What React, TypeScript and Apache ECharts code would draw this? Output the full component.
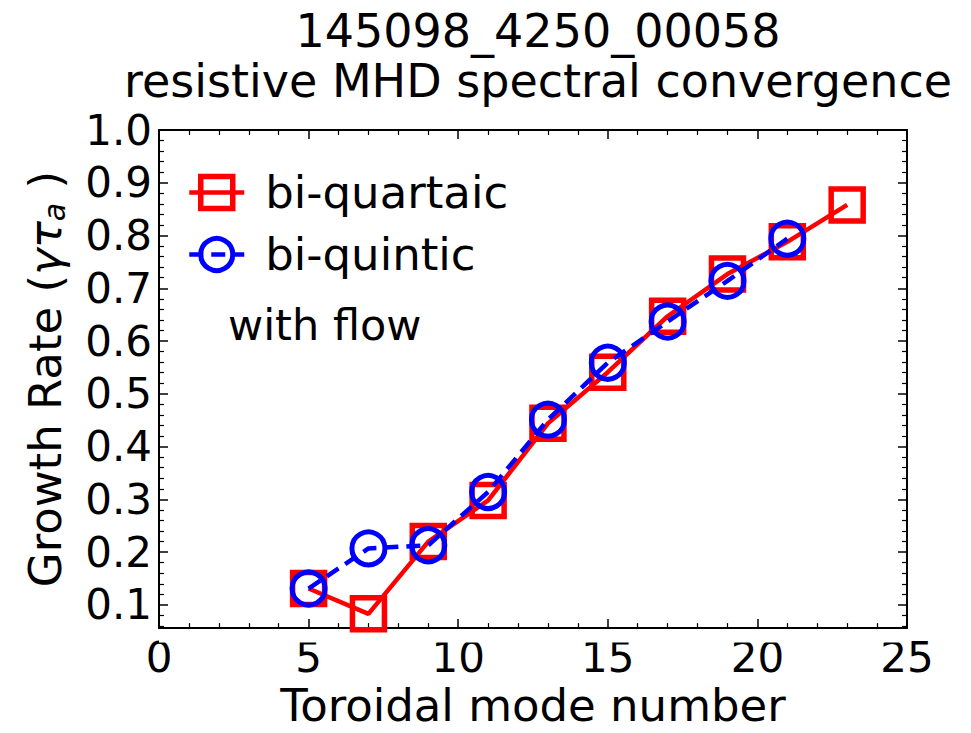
import React, { useEffect, useRef } from "react";
import * as echarts from "echarts";

const TITLE_LINES = ["145098_4250_00058", "resistive MHD spectral convergence"];
const X_LABEL = "Toroidal mode number";
const SERIES_NAMES = ["bi-quartaic", "bi-quintic"];
const ANNOTATION = "with flow";

const xQuartaic = [5, 7, 9, 11, 13, 15, 17, 19, 21, 23];
const yQuartaic = [0.131, 0.083, 0.22, 0.298, 0.444, 0.541, 0.647, 0.727, 0.788, 0.858];
const xQuintic = [5, 7, 9, 11, 13, 15, 17, 19, 21];
const yQuintic = [0.131, 0.207, 0.213, 0.314, 0.451, 0.559, 0.637, 0.714, 0.794];

const X_MIN = 0;
const X_MAX = 25;
const X_INTERVAL = 5;
const Y_MIN = 0.056;
const Y_MAX = 1.0;
const yMajorTicks = [0.1, 0.2, 0.3, 0.4, 0.5, 0.6, 0.7, 0.8, 0.9, 1.0];
const yMinorTicks = [
  0.06, 0.08, 0.12, 0.14, 0.16, 0.18, 0.22, 0.24, 0.26, 0.28, 0.32, 0.34, 0.36, 0.38,
  0.42, 0.44, 0.46, 0.48, 0.52, 0.54, 0.56, 0.58, 0.62, 0.64, 0.66, 0.68, 0.72, 0.74,
  0.76, 0.78, 0.82, 0.84, 0.86, 0.88, 0.92, 0.94, 0.96, 0.98,
];

const FONT = "DejaVu Sans";
const RED = "#ff0000";
const BLUE = "#0000ff";

export default function App() {
  const ref = useRef<HTMLDivElement>(null);
  useEffect(() => {
    if (!ref.current) return;
    const chart = echarts.init(ref.current, null, { renderer: "svg" });
    const tickBase = { lineStyle: { color: "#000", width: 1.5 } };
    const xAxisCommon = {
      type: "value",
      min: X_MIN,
      max: X_MAX,
      interval: X_INTERVAL,
      splitLine: { show: false },
      axisLine: { show: true, onZero: false, lineStyle: { color: "#000", width: 2 } },
      axisTick: { show: true, inside: true, length: 9, ...tickBase },
      minorTick: { show: true, splitNumber: 5, length: 5, lineStyle: { color: "#000", width: 1.2 } },
    };
    const yAxisBase = {
      type: "value",
      min: Y_MIN,
      max: Y_MAX,
      splitLine: { show: false },
    };
    const redLine = { color: RED, width: 4.5 };
    const redItem = { color: "rgba(0,0,0,0)", borderColor: RED, borderWidth: 5.5 };
    const blueLine = { color: BLUE, width: 4.5, type: [14, 8] };
    const blueItem = { color: "rgba(0,0,0,0)", borderColor: BLUE, borderWidth: 5 };
    const option = {
      animation: false,
      backgroundColor: "#fff",
      textStyle: { fontFamily: FONT },
      title: {
        text: TITLE_LINES.join("\n"),
        left: 533,
        top: 1,
        textAlign: "center",
        textStyle: { fontFamily: FONT, fontSize: 46, fontWeight: "normal", color: "#000", lineHeight: 50 },
      },
      grid: { left: 159, top: 130, right: 64, bottom: 96, containLabel: false },
      legend: {
        orient: "vertical",
        left: 187,
        top: 170,
        padding: 0,
        itemWidth: 55,
        itemHeight: 40,
        itemGap: 17,
        data: [
          { name: SERIES_NAMES[0], lineStyle: redLine, itemStyle: redItem },
          { name: SERIES_NAMES[1], lineStyle: blueLine, itemStyle: blueItem },
        ],
        textStyle: { fontFamily: FONT, fontSize: 45, color: "#000", lineHeight: 40, padding: [0, 0, 0, 16] },
      },
      xAxis: [
        {
          ...xAxisCommon,
          position: "bottom",
          name: X_LABEL,
          nameLocation: "middle",
          nameGap: 48,
          nameTextStyle: { fontFamily: FONT, fontSize: 45, color: "#000" },
          axisLabel: { fontFamily: FONT, fontSize: 42, color: "#000", margin: 8 },
        },
        {
          ...xAxisCommon,
          position: "top",
          axisLabel: { show: false },
        },
      ],
      yAxis: [
        {
          ...yAxisBase,
          position: "left",
          axisLine: { show: true, onZero: false, lineStyle: { color: "#000", width: 2 } },
          axisTick: { show: true, inside: true, length: 9, customValues: yMajorTicks, ...tickBase },
          axisLabel: {
            fontFamily: FONT,
            fontSize: 42,
            color: "#000",
            margin: 7,
            customValues: yMajorTicks,
            formatter: (v: number) => v.toFixed(1),
          },
          name: "{n|Growth Rate (}{m|γτ}{s|a}{n| )}",
          nameLocation: "middle",
          nameGap: 90,
          nameTextStyle: {
            fontFamily: FONT,
            fontSize: 45,
            color: "#000",
            rich: {
              n: { fontFamily: FONT, fontSize: 45, color: "#000" },
              m: { fontFamily: FONT, fontSize: 45, color: "#000", fontStyle: "italic" },
              s: { fontFamily: FONT, fontSize: 30, color: "#000", fontStyle: "italic", verticalAlign: "bottom", padding: [18, 0, 0, 0] },
            },
          },
        },
        {
          ...yAxisBase,
          position: "left",
          axisLine: { show: false, onZero: false },
          axisTick: { show: true, inside: true, length: 5, customValues: yMinorTicks, lineStyle: { color: "#000", width: 1.2 } },
          axisLabel: { show: false },
        },
        {
          ...yAxisBase,
          position: "right",
          axisLine: { show: true, onZero: false, lineStyle: { color: "#000", width: 2 } },
          axisTick: { show: true, inside: true, length: 9, customValues: yMajorTicks, ...tickBase },
          axisLabel: { show: false },
        },
        {
          ...yAxisBase,
          position: "right",
          axisLine: { show: false, onZero: false },
          axisTick: { show: true, inside: true, length: 5, customValues: yMinorTicks, lineStyle: { color: "#000", width: 1.2 } },
          axisLabel: { show: false },
        },
      ],
      graphic: [
        {
          type: "text",
          left: 228,
          top: 303,
          style: { text: ANNOTATION, fontFamily: FONT, fontSize: 43, fill: "#000" },
        },
        {
          type: "rect",
          z: 10,
          shape: { x: 159, y: 638.5, width: 748, height: 4 },
          style: { fill: "#fff" },
        },
      ],
      series: [
        {
          name: SERIES_NAMES[0],
          type: "line",
          xAxisIndex: 0,
          yAxisIndex: 0,
          data: xQuartaic.map((x, i) => [x, yQuartaic[i]]),
          symbol: "rect",
          symbolSize: 32,
          showAllSymbol: true,
          clip: false,
          lineStyle: redLine,
          itemStyle: redItem,
          z: 2,
        },
        {
          name: SERIES_NAMES[1],
          type: "line",
          xAxisIndex: 0,
          yAxisIndex: 0,
          data: xQuintic.map((x, i) => [x, yQuintic[i]]),
          symbol: "circle",
          symbolSize: 33,
          showAllSymbol: true,
          lineStyle: blueLine,
          itemStyle: blueItem,
          z: 3,
        },
      ],
    };
    chart.setOption(option as any);
    return () => chart.dispose();
  }, []);
  return (
    <div
      ref={ref}
      style={{ position: "fixed", left: 0, top: 0, width: 971, height: 733, background: "#fff" }}
    />
  );
}
